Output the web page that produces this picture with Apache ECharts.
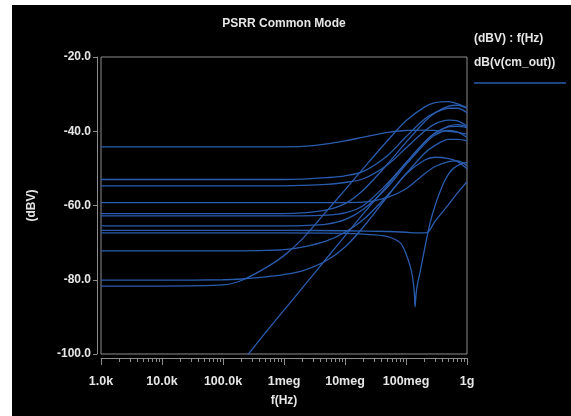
<!DOCTYPE html>
<html><head><meta charset="utf-8">
<script src="https://cdn.jsdelivr.net/npm/echarts@6.0.0/dist/echarts.min.js"></script>
<style>
html,body{margin:0;padding:0;background:#fff;}
#bg{position:absolute;left:12px;top:5px;width:559px;height:411px;background:#000;}
#chart{position:absolute;left:0;top:0;width:571px;height:416px;}
</style></head><body>
<div id="bg"></div><div id="chart"></div>
<script>
// Frequencies (Hz) shared by most traces
const freqs = [1e3, 1e4, 1e5, 2e5, 5e5, 1e6, 2e6, 5e6, 1e7, 2e7, 5e7, 1e8, 2e8, 3e8, 5e8, 7e8, 1e9];
const runA   = [-44.2,-44.2,-44.2,-44.2,-44.2,-44.2,-44.1,-43.4,-42.6,-41.6,-40.3,-39.8,-39.7,-39.8,-40.0,-40.3,-40.8];
const run53  = [-53.0,-53.0,-53.0,-53.0,-53.0,-53.0,-52.9,-52.5,-52.0,-50.8,-46.5,-41.5,-36.8,-35.0,-33.8,-33.8,-35.0];
const run55  = [-54.7,-54.7,-54.7,-54.7,-54.7,-54.7,-54.6,-54.3,-53.8,-52.8,-49.0,-44.5,-40.0,-38.0,-37.0,-37.2,-38.6];
const run59  = [-59.2,-59.2,-59.2,-59.2,-59.2,-59.2,-59.2,-59.2,-59.2,-59.1,-57.8,-55.5,-51.5,-49.5,-48.2,-48.0,-49.3];
const run62a = [-62.2,-62.2,-62.2,-62.2,-62.2,-62.2,-62.0,-61.2,-59.5,-55.8,-48.8,-43.0,-37.5,-35.0,-33.2,-33.0,-33.8];
const run62b = [-62.8,-62.8,-62.8,-62.8,-62.8,-62.8,-62.8,-62.6,-62.0,-60.0,-54.0,-48.5,-43.0,-40.5,-38.8,-38.7,-39.0];
const run65  = [-65.5,-65.5,-65.5,-65.5,-65.5,-65.5,-65.4,-65.0,-63.8,-61.0,-55.0,-49.0,-43.5,-41.0,-39.8,-40.2,-41.7];
const run72  = [-72.2,-72.2,-72.2,-72.2,-72.1,-71.9,-71.2,-69.5,-67.2,-63.8,-57.2,-51.5,-46.0,-43.8,-42.2,-42.2,-42.6];
const run80  = [-80.1,-80.1,-80.0,-79.8,-79.2,-78.6,-77.6,-74.8,-71.2,-65.8,-57.5,-51.5,-47.8,-47.0,-47.4,-48.2,-50.1];
const run82  = [-81.7,-81.7,-81.4,-80.2,-76.8,-73.5,-69.0,-61.5,-55.8,-50.0,-42.5,-37.2,-33.5,-32.3,-32.0,-32.6,-33.6];
const runRamp= [null, null, null,-102.4,-94.2,-88.2,-82.2,-74.2,-68.2,-62.2,-54.5,-48.5,-43.0,-40.5,-38.6,-38.2,-38.8];
// Trace with late upturn
const freqsKink = [1e3, 1e5, 1e6, 1e7, 5e7, 1e8, 1.5e8, 2.2e8, 3e8, 5e8, 7e8, 1e9];
const runKink   = [-66.7,-66.7,-66.7,-66.8,-67.0,-67.2,-67.4,-67.3,-64.2,-59.7,-56.6,-53.6];
// Trace with notch
const freqsNotch = [1e3, 1e6, 1e7, 3e7, 5e7, 8e7, 1e8, 1.2e8, 1.3e8, 1.37e8, 1.41e8, 1.46e8, 1.55e8, 1.7e8, 2e8, 2.5e8, 3e8, 4e8, 5e8, 6e8, 8e8, 1e9];
const runNotch   = [-67.4,-67.4,-67.5,-67.9,-68.4,-70.0,-73.0,-77.0,-80.0,-83.5,-87.3,-84.0,-81.0,-78.0,-72.0,-64.5,-60.0,-54.5,-51.5,-50.0,-48.8,-48.4];

const xTicks = [1e3, 1e4, 1e5, 1e6, 1e7, 1e8, 1e9];
const xTickLabels = ['1.0k', '10.0k', '100.0k', '1meg', '10meg', '100meg', '1g'];

const minorTicks = [];
for (let d = 1e3; d < 1e9; d *= 10) for (let k = 2; k <= 9; k++) minorTicks.push(d * k);

function pairs(fs, vs) { const out = []; fs.forEach((f, i) => { if (vs[i] !== null) out.push([f, vs[i]]); }); return out; }

const lineColor = '#2a5cae';
const traces = [
  [freqs, runA], [freqs, run53], [freqs, run55], [freqs, run59], [freqs, run62a], [freqs, run62b],
  [freqs, run65], [freqs, run72], [freqs, run80], [freqs, run82], [freqs, runRamp],
  [freqsKink, runKink], [freqsNotch, runNotch]
];

const textColor = '#e6e6e6';
const font = 'Liberation Sans, Arial, sans-serif';
const chart = echarts.init(document.getElementById('chart'), null, {renderer: 'canvas'});
chart.setOption({
  animation: false,
  backgroundColor: 'transparent',
  title: {
    text: 'PSRR Common Mode', left: 279, top: 13, textAlign: 'center',
    textStyle: {color: textColor, fontSize: 12, fontWeight: 'bold', fontFamily: font}
  },
  grid: {left: 101, right: 104, top: 57, bottom: 62, show: true, borderColor: '#8c8c8c', borderWidth: 1, backgroundColor: 'transparent'},
  xAxis: [{
    type: 'log', logBase: 10, min: 1e3, max: 1e9, offset: 4,
    name: 'f(Hz)', nameLocation: 'middle', nameGap: 37,
    nameTextStyle: {color: textColor, fontSize: 12, fontWeight: 'bold', fontFamily: font},
    axisLine: {show: true, lineStyle: {color: '#8c8c8c', width: 1}},
    axisTick: {show: true, inside: false, length: 7, customValues: xTicks, lineStyle: {color: '#8c8c8c'}},
    axisLabel: {show: true, margin: 17, customValues: xTicks, color: textColor, fontSize: 12.5, fontWeight: 'bold', fontFamily: font,
      formatter: v => { const i = xTicks.findIndex(t => Math.abs(Math.log10(t) - Math.log10(v)) < 1e-6); return i >= 0 ? xTickLabels[i] : ''; }},
    splitLine: {show: false}, minorTick: {show: false}
  }, {
    type: 'log', logBase: 10, min: 1e3, max: 1e9, offset: 4, position: 'bottom',
    axisLine: {show: false},
    axisTick: {show: true, length: 4, customValues: minorTicks, lineStyle: {color: '#8c8c8c'}},
    axisLabel: {show: false}, splitLine: {show: false}
  }],
  yAxis: {
    type: 'value', min: -100, max: -20, interval: 20, offset: 4,
    name: '(dBV)', nameLocation: 'middle', nameGap: 59, nameRotate: 90,
    nameTextStyle: {color: textColor, fontSize: 12, fontWeight: 'bold', fontFamily: font},
    axisLine: {show: true, lineStyle: {color: '#8c8c8c', width: 1}},
    axisTick: {show: true, length: 4, lineStyle: {color: '#8c8c8c'}},
    axisLabel: {margin: 6, color: textColor, fontSize: 12, fontWeight: 'bold', fontFamily: font, formatter: v => v.toFixed(1)},
    splitLine: {show: false}
  },
  graphic: [
    {type: 'text', left: 474, top: 33, style: {text: '(dBV) : f(Hz)', fill: textColor, font: 'bold 12px ' + font}},
    {type: 'text', left: 474, top: 57, style: {text: 'dB(v(cm_out))', fill: textColor, font: 'bold 12px ' + font}},
    {type: 'line', shape: {x1: 474, y1: 83, x2: 566, y2: 83}, style: {stroke: lineColor, lineWidth: 1.3}}
  ],
  series: traces.map(t => ({
    type: 'line', name: 'dB(v(cm_out))', xAxisIndex: 0, showSymbol: false, smooth: 0.3, clip: true,
    lineStyle: {color: lineColor, width: 1.3}, data: pairs(t[0], t[1])
  }))
});
</script>
</body></html>
